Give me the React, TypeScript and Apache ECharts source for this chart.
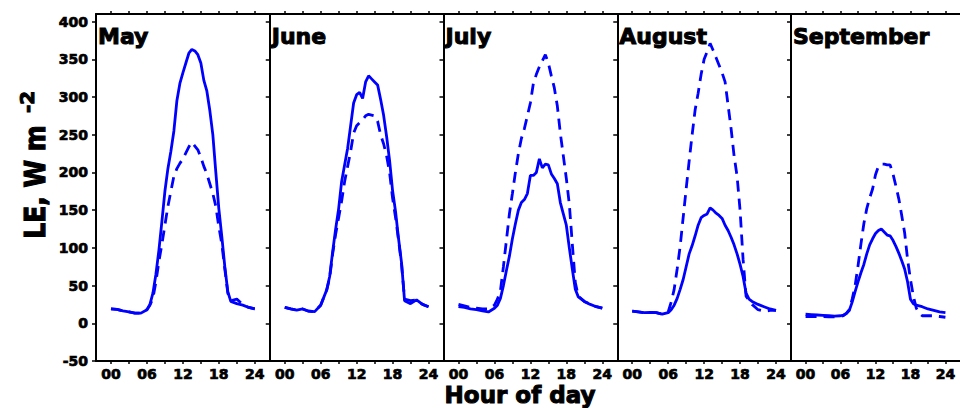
import React, { useEffect, useRef } from "react";
import * as echarts from "echarts";

// Hour of day (half-hourly resolution during daytime)
const hours = [0, 1, 2, 3, 4, 5, 6, 6.5, 7, 7.5, 8, 8.5, 9, 9.5, 10, 10.5, 11, 11.5, 12, 12.5, 13, 13.5, 14, 14.5, 15, 15.5, 16, 16.5, 17, 17.5, 18, 18.5, 19, 19.5, 20, 21, 22, 23, 24];

const months = ["May", "June", "July", "August", "September"];

// LE, W m-2 — solid line
const maySolid = [19, 18.5, 16.5, 15, 13.5, 13.5, 18, 25, 40, 65, 97, 135, 175, 205, 228, 255, 295, 318, 332, 345, 358, 363, 361, 356, 345, 322, 308, 282, 250, 200, 152, 115, 75, 42, 29, 26, 24, 21, 19];
const junSolid = [21, 19, 17.5, 19, 16, 15.5, 24, 34, 44, 62, 95, 125, 152, 188, 210, 232, 262, 292, 303, 306, 298, 320, 328, 324, 320, 316, 297, 276, 248, 216, 176, 148, 112, 80, 30, 26, 31, 25, 22];
const julSolid = [22, 21, 19, 18, 16.5, 15, 20, 24, 33, 50, 70, 89, 112, 132, 150, 160, 164, 172, 196, 196, 200, 218, 206, 211, 210, 198, 192, 185, 160, 145, 130, 100, 72, 45, 35, 29, 25, 22, 20];
const augSolid = [16, 15, 14, 14.5, 14, 12, 14, 18, 24, 33, 45, 58, 75, 92, 103, 116, 130, 140, 143, 145, 153, 150, 146, 143, 139, 130, 123, 114, 104, 92, 78, 62, 40, 32, 29, 25, 22, 19, 17];
const sepSolid = [12, 11.5, 11, 10.5, 10, 9.5, 10, 11, 13, 17, 28, 42, 55, 67, 78, 92, 104, 112, 119, 123, 125, 121, 117, 116, 110, 102, 93, 83, 72, 55, 32, 26, 24, 23, 22, 19, 17, 15, 14];

// LE, W m-2 — dashed line
const mayDashed = [19, 18.5, 16.5, 15, 13.5, 13.5, 18, 24, 33, 55, 82, 105, 130, 155, 175, 195, 205, 212, 218, 226, 234, 240, 235, 230, 220, 208, 198, 185, 172, 155, 128, 105, 72, 40, 30, 32, 25, 21, 19];
const junDashed = [21, 19, 17.5, 19, 16, 15.5, 24, 34, 44, 60, 92, 118, 140, 162, 188, 208, 228, 252, 262, 266, 270, 275, 277, 276, 275, 268, 250, 238, 222, 200, 166, 140, 110, 78, 32, 30, 31, 25, 22];
const julDashed = [25, 23, 21, 20, 19, 19, 24, 32, 43, 75, 110, 145, 172, 200, 225, 245, 258, 275, 292, 318, 330, 340, 348, 356, 345, 328, 312, 288, 252, 222, 192, 158, 105, 54, 36, 29, 25, 22, 20];
const augDashed = [16, 15, 14, 14.5, 14, 12, 15, 28, 45, 72, 102, 140, 178, 215, 250, 283, 305, 330, 350, 360, 371, 362, 352, 342, 332, 320, 289, 258, 222, 195, 150, 85, 36, 30, 25, 18, 16, 17, 17];
const sepDashed = [9, 9, 9, 9, 8.5, 8.5, 9, 10, 13, 18, 32, 50, 76, 105, 132, 152, 166, 178, 197, 208, 211, 211, 210, 210, 198, 182, 165, 143, 120, 85, 58, 36, 20, 13, 10, 10, 10, 9, 8];

const xLabelTicks = [0, 6, 12, 18, 24];
const xMinorTicks = [0, 3, 6, 9, 12, 15, 18, 21, 24];
const yTicks = [-50, 0, 50, 100, 150, 200, 250, 300, 350, 400];

const solidSeries = [maySolid, junSolid, julSolid, augSolid, sepSolid];
const dashedSeries = [mayDashed, junDashed, julDashed, augDashed, sepDashed];

const FONT = "DejaVu Sans";
const BLUE = "#0000ff";

export default function App() {
  const ref = useRef<HTMLDivElement>(null);
  useEffect(() => {
    if (!ref.current) return;
    const chart = echarts.init(ref.current, null, { renderer: "svg" });
    const left0 = 96;
    const pw = 173.75;
    const top = 14;
    const height = 347;

    const labelStyle = {
      fontFamily: FONT,
      fontWeight: "bold",
      fontSize: 14,
      color: "#000",
      textBorderColor: "#000",
      textBorderWidth: 0.7,
    };

    const grids = months.map((_, i) => ({ left: left0 + i * pw, top, width: pw, height }));
    const xAxes: any[] = [];
    months.forEach((_, i) => {
      xAxes.push({
        gridIndex: i,
        type: "value",
        position: "bottom",
        min: -2.5,
        max: 26.5,
        splitLine: { show: false },
        axisLine: { show: true, onZero: false, lineStyle: { color: "#000", width: 2 } },
        axisTick: { show: true, customValues: xMinorTicks, length: 3, lineStyle: { color: "#000", width: 1.5 } },
        axisLabel: {
          show: true,
          customValues: xLabelTicks,
          formatter: (v: number) => String(v).padStart(2, "0"),
          margin: 6,
          ...labelStyle,
        },
      });
      xAxes.push({
        gridIndex: i,
        type: "value",
        position: "top",
        min: -2.5,
        max: 26.5,
        splitLine: { show: false },
        axisLine: { show: true, onZero: false, lineStyle: { color: "#000", width: 2 } },
        axisTick: { show: true, customValues: xMinorTicks, length: 3, lineStyle: { color: "#000", width: 1.5 } },
        axisLabel: { show: false },
      });
    });
    const yAxes = months.map((_, i) => ({
      gridIndex: i,
      type: "value",
      min: -50,
      max: 410,
      interval: 50,
      splitLine: { show: false },
      axisLine: { show: true, onZero: false, lineStyle: { color: "#000", width: 2 } },
      axisTick: { show: true, customValues: yTicks, length: 4, lineStyle: { color: "#000", width: 1.5 } },
      axisLabel: {
        show: i === 0,
        customValues: yTicks,
        margin: 8,
        ...labelStyle,
      },
    }));

    const series: any[] = [];
    months.forEach((m, i) => {
      series.push({
        name: m + " solid",
        type: "line",
        xAxisIndex: i * 2,
        yAxisIndex: i,
        data: hours.map((h, k) => [h, solidSeries[i][k]]),
        symbol: "none",
        lineStyle: { color: BLUE, width: 2.8, type: "solid" },
        silent: true,
      });
      series.push({
        name: m + " dashed",
        type: "line",
        xAxisIndex: i * 2,
        yAxisIndex: i,
        data: hours.map((h, k) => [h, dashedSeries[i][k]]),
        symbol: "none",
        lineStyle: { color: BLUE, width: 2.8, type: [11, 7] },
        silent: true,
      });
    });

    const heavy = { fill: "#000", stroke: "#000", lineWidth: 1, fontFamily: FONT, fontWeight: "bold" };
    const graphic: any[] = months.map((m, i) => ({
      type: "text",
      x: left0 + i * pw + 2,
      y: 36,
      style: { text: m, fontSize: 22, align: "left", verticalAlign: "middle", ...heavy },
    }));
    graphic.push({
      type: "text",
      x: 520,
      y: 395,
      style: { text: "Hour of day", fontSize: 23, align: "center", verticalAlign: "middle", ...heavy },
    });
    graphic.push({
      type: "text",
      x: 35,
      y: 182,
      rotation: Math.PI / 2,
      scaleY: 1.15,
      style: { text: "LE, W m", fontSize: 25, align: "center", verticalAlign: "middle", ...heavy },
    });
    graphic.push({
      type: "text",
      x: 27,
      y: 102,
      rotation: Math.PI / 2,
      style: { text: "-2", fontSize: 20, align: "center", verticalAlign: "middle", ...heavy },
    });

    chart.setOption({
      animation: false,
      backgroundColor: "#fff",
      grid: grids,
      xAxis: xAxes,
      yAxis: yAxes,
      series,
      graphic,
    });
    return () => chart.dispose();
  }, []);
  return <div ref={ref} style={{ position: "fixed", left: 0, top: 0, width: 960, height: 408 }} />;
}
